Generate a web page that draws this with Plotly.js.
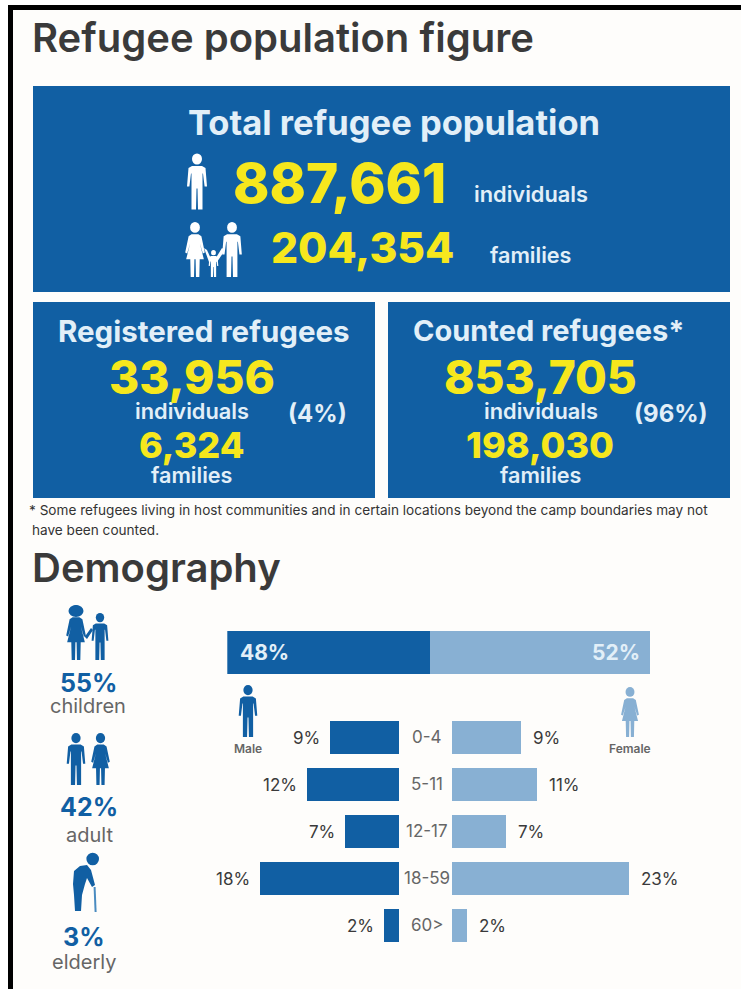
<!DOCTYPE html>
<html>
<head>
<meta charset="utf-8">
<script src="https://cdn.plot.ly/plotly-3.0.1.min.js"></script>
<style>html,body{margin:0;padding:0;background:#fff}#chart{width:741px;height:989px}</style>
</head>
<body>
<div id="chart"></div>
<script>
// Headline figures
const pageTitle = 'Refugee population figure';
const totalTitle = 'Total refugee population';
const totalIndividuals = '887,661';
const totalFamilies = '204,354';
const registeredIndividuals = '33,956';
const registeredFamilies = '6,324';
const registeredShare = '(4%)';
const countedIndividuals = '853,705';
const countedFamilies = '198,030';
const countedShare = '(96%)';

// Demography
const genderShare = [48, 52];
const ageGroups = ['0-4', '5-11', '12-17', '18-59', '60>'];
const malePct = [9, 12, 7, 18, 2];
const femalePct = [9, 11, 7, 23, 2];
const lifeStages = ['children', 'adult', 'elderly'];
const lifeStagePct = [55, 42, 3];

const BLUE = '#115fa3', LIGHT = '#88b0d3', YELLOW = '#f6e71d', PALE = '#e2eff8';
const INK = '#3a3a3a', GREY = '#666666';
const FONT = 'Inter, Lato, sans-serif';
const W = 741, H = 989;

// Pixel helpers: the page overlay axes run 0..741 and 989..0
const domX = (a, b) => [a / W, b / W];
const domY = (a, b) => [1 - b / H, 1 - a / H];
const ref = {xref: 'x4', yref: 'y4'};

const shapes = [];
const annotations = [];

function rect(x0, y0, x1, y1, fill) {
  shapes.push({type: 'rect', ...ref, x0, y0, x1, y1, fillcolor: fill, line: {width: 0}, layer: 'below'});
}
function disc(cx, cy, rx, ry, fill) {
  shapes.push({type: 'circle', ...ref, x0: cx - rx, x1: cx + rx, y0: cy - ry, y1: cy + ry, fillcolor: fill, line: {width: 0}});
}
function poly(cx, top, k, pts, fill) {
  const d = pts.map((p, i) => (i ? 'L' : 'M') + (cx + p[0] * k).toFixed(2) + ',' + (top + p[1] * k).toFixed(2)).join(' ') + ' Z';
  shapes.push({type: 'path', ...ref, path: d, fillcolor: fill, line: {width: 0}});
}
function text(str, x, y, size, color, weight, anchor) {
  annotations.push({
    text: str, ...ref, x, y, showarrow: false, xanchor: anchor || 'center', yanchor: 'middle',
    borderpad: 0, font: {family: FONT, size, color, weight: weight || 400}
  });
}

// Pictograms, all sketched on a 56-unit tall figure
const manBody = [[-5, 12.5], [5, 12.5], [8.5, 14.5], [10, 33], [7.6, 33], [6, 20], [5.5, 20], [5.5, 56], [1, 56], [0.5, 35],
  [-0.5, 35], [-1, 56], [-5.5, 56], [-5.5, 20], [-6, 20], [-7.6, 33], [-10, 33], [-8.5, 14.5]];
const womanBody = [[-3.5, 12.5], [3.5, 12.5], [6.5, 14.5], [10, 31], [8, 32], [5, 22], [9, 38], [4.8, 38], [4.4, 56], [1, 56], [0.6, 38],
  [-0.6, 38], [-1, 56], [-4.4, 56], [-4.8, 38], [-9, 38], [-5, 22], [-8, 32], [-10, 31], [-6.5, 14.5]];
function man(cx, top, h, fill) {
  const k = h / 56;
  disc(cx, top + 5.5 * k, 5 * k, 5.5 * k, fill);
  poly(cx, top, k, manBody, fill);
}
function woman(cx, top, h, fill) {
  const k = h / 56;
  disc(cx, top + 5.5 * k, 5 * k, 5.5 * k, fill);
  poly(cx, top, k, womanBody, fill);
}

// Family in the total panel
woman(195, 222, 55, '#ffffff');
man(232, 222, 55, '#ffffff');
man(213.5, 250, 27, '#ffffff');
poly(0, 0, 1, [[204, 248], [207, 250], [212, 261], [209, 262]], '#ffffff');
poly(0, 0, 1, [[222, 248], [225, 250], [217, 262], [214, 261]], '#ffffff');
// Single figure in the total panel
man(197, 153.5, 56, '#ffffff');

// Children
disc(76, 611, 7.5, 6, BLUE);
woman(76, 605, 55, BLUE);
man(100, 613, 47, BLUE);
poly(0, 0, 1, [[84, 636], [86, 635], [91, 628], [93, 630], [87, 639]], BLUE);
// Adults
man(76, 733, 52, BLUE);
woman(100.5, 733, 52, BLUE);
// Elderly figure with a cane
disc(92.7, 859, 6.3, 6.3, BLUE);
poly(0, 0, 1, [[87, 865], [80, 866], [74, 871], [73, 884], [74, 895], [75, 911], [81, 911], [82, 895], [85, 884],
  [87, 878], [92, 887], [95, 885], [91, 870]], BLUE);
poly(0, 0, 1, [[93.6, 887], [95.6, 887], [96.6, 912], [94.6, 912]], '#4a8bc0');
// Gender markers
man(248, 685, 52, BLUE);
woman(630, 687, 50, LIGHT);

// Page frame and panels
rect(0, 0, 741, 5, '#ffffff');
rect(0, 0, 8, 989, '#ffffff');
rect(8, 5, 741, 10, '#000000');
rect(8, 5, 13, 989, '#000000');
rect(33, 86, 730, 292, BLUE);
rect(33, 302, 375, 498, BLUE);
rect(388, 302, 730, 498, BLUE);

// Headings and panel text
text(pageTitle, 31, 37, 40, INK, 600, 'left');
text('Demography', 31, 567, 40, INK, 600, 'left');
text(totalTitle, 394, 122, 34.5, PALE, 700);
text(totalIndividuals, 339.5, 183, 55, YELLOW, 800);
text('individuals', 530.5, 194, 21.8, PALE, 600);
text(totalFamilies, 362, 247, 42.5, YELLOW, 800);
text('families', 530, 255, 21.6, PALE, 600);
text('Registered refugees', 204, 331, 29.5, PALE, 700);
text(registeredIndividuals, 191.5, 377, 46, YELLOW, 800);
text('individuals', 192, 411, 21.8, PALE, 600);
text(registeredShare, 317.5, 413, 24, PALE, 700);
text(registeredFamilies, 191.5, 445, 36, YELLOW, 800);
text('families', 191.5, 475, 21.6, PALE, 600);
text('Counted refugees*', 548, 330, 29, PALE, 700);
text(countedIndividuals, 540, 377, 46, YELLOW, 800);
text('individuals', 540.5, 411, 21.8, PALE, 600);
text(countedShare, 670.5, 413, 24, PALE, 700);
text(countedFamilies, 540, 445, 36, YELLOW, 800);
text('families', 540, 475, 21.6, PALE, 600);
text('* Some refugees living in host communities and in certain locations beyond the camp boundaries may not', 28, 510, 13.6, '#333333', 400, 'left');
text('have been counted.', 31, 530, 13.6, '#333333', 400, 'left');

// Life stage summary
[[88, 683, 706], [89, 807, 835], [84, 937, 962]].forEach(([x, yPct, yName], i) => {
  text(lifeStagePct[i] + '%', x, yPct, 25, BLUE, 700);
  text(lifeStages[i], x, yName, 20, GREY, 400);
});

// Gender split labels
text(genderShare[0] + '%', 239, 652, 21, PALE, 700, 'left');
text(genderShare[1] + '%', 641, 652, 21, PALE, 700, 'right');
text('Male', 248, 748, 12, GREY, 600);
text('Female', 630, 748, 12, GREY, 600);

// Age pyramid labels follow the bars through their own axes
const pyramidTop = 714, rowStep = 47;
ageGroups.forEach((g, i) => {
  const y = pyramidTop + rowStep * (i + 0.5) - 0.5;
  text(g, 427, y, 17, GREY, 400);
  annotations.push({text: malePct[i] + '%', xref: 'x2', yref: 'y2', x: malePct[i], y: g, xanchor: 'right', yanchor: 'middle',
    xshift: -8, showarrow: false, font: {family: FONT, size: 17, color: INK}});
  annotations.push({text: femalePct[i] + '%', xref: 'x3', yref: 'y3', x: femalePct[i], y: g, xanchor: 'left', yanchor: 'middle',
    xshift: 10, showarrow: false, font: {family: FONT, size: 17, color: INK}});
});

const pxPerPct = 7.7;
const maleEdge = 399, femaleEdge = 452, sideWidth = 200;
const hidden = {visible: false, fixedrange: true};

const data = [
  {type: 'bar', orientation: 'h', x: [genderShare[0]], y: ['Total'], width: 1, xaxis: 'x', yaxis: 'y',
    marker: {color: BLUE, line: {width: 0}}, hoverinfo: 'skip', name: 'Male'},
  {type: 'bar', orientation: 'h', x: [genderShare[1]], y: ['Total'], width: 1, xaxis: 'x', yaxis: 'y',
    marker: {color: LIGHT, line: {width: 0}}, hoverinfo: 'skip', name: 'Female'},
  {type: 'bar', orientation: 'h', x: malePct, y: ageGroups, width: 0.72, xaxis: 'x2', yaxis: 'y2',
    marker: {color: BLUE, line: {width: 0}}, hoverinfo: 'skip', name: 'Male by age'},
  {type: 'bar', orientation: 'h', x: femalePct, y: ageGroups, width: 0.72, xaxis: 'x3', yaxis: 'y3',
    marker: {color: LIGHT, line: {width: 0}}, hoverinfo: 'skip', name: 'Female by age'},
  {type: 'scatter', mode: 'none', x: [0, W], y: [0, H], xaxis: 'x4', yaxis: 'y4', hoverinfo: 'skip'}
];

const layout = {
  width: W, height: H, margin: {l: 0, r: 0, t: 0, b: 0},
  paper_bgcolor: '#fefdfb', plot_bgcolor: 'rgba(0,0,0,0)',
  barmode: 'stack', showlegend: false, hovermode: false,
  font: {family: FONT},
  xaxis: {...hidden, domain: domX(227.3, 650), range: [0, 100], anchor: 'y'},
  yaxis: {...hidden, domain: domY(630.5, 674), type: 'category', range: [-0.5, 0.5], anchor: 'x'},
  xaxis2: {...hidden, domain: domX(maleEdge - sideWidth, maleEdge), range: [sideWidth / pxPerPct, 0], anchor: 'y2'},
  yaxis2: {...hidden, domain: domY(pyramidTop, pyramidTop + rowStep * 5), type: 'category', categoryorder: 'array', categoryarray: ageGroups, range: [4.5, -0.5], anchor: 'x2'},
  xaxis3: {...hidden, domain: domX(femaleEdge, femaleEdge + sideWidth), range: [0, sideWidth / pxPerPct], anchor: 'y3'},
  yaxis3: {...hidden, domain: domY(pyramidTop, pyramidTop + rowStep * 5), type: 'category', categoryorder: 'array', categoryarray: ageGroups, range: [4.5, -0.5], anchor: 'x3'},
  xaxis4: {...hidden, domain: [0, 1], range: [0, W], anchor: 'y4'},
  yaxis4: {...hidden, domain: [0, 1], range: [H, 0], anchor: 'x4'},
  shapes, annotations
};

Plotly.newPlot('chart', data, layout, {displayModeBar: false, staticPlot: true});
</script>
</body>
</html>
